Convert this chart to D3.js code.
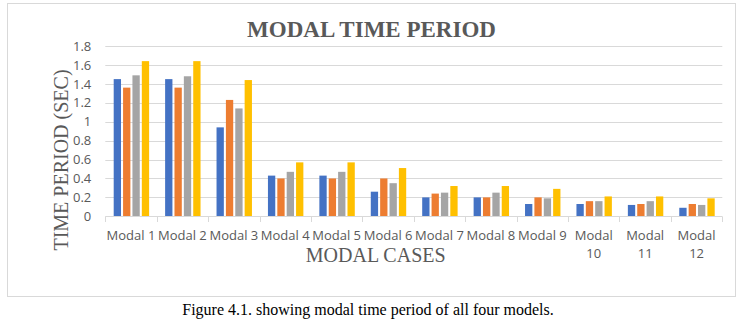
<!DOCTYPE html>
<html><head><meta charset="utf-8">
<script src="https://cdn.jsdelivr.net/npm/d3@7/dist/d3.min.js"></script>
<style>body{margin:0;background:#fff}svg{display:block}</style>
</head><body>
<script>
const categories = ["Modal 1","Modal 2","Modal 3","Modal 4","Modal 5","Modal 6","Modal 7","Modal 8","Modal 9","Modal 10","Modal 11","Modal 12"];
const categoryLabelLines = [["Modal 1"],["Modal 2"],["Modal 3"],["Modal 4"],["Modal 5"],["Modal 6"],["Modal 7"],["Modal 8"],["Modal 9"],["Modal","10"],["Modal","11"],["Modal","12"]];
const seriesNames = ["Model 1","Model 2","Model 3","Model 4"];
const series1 = [1.45,1.45,0.94,0.43,0.43,0.26,0.20,0.20,0.13,0.13,0.12,0.09];
const series2 = [1.36,1.36,1.23,0.40,0.40,0.40,0.24,0.20,0.20,0.16,0.13,0.13];
const series3 = [1.49,1.48,1.14,0.47,0.47,0.35,0.25,0.25,0.19,0.16,0.16,0.12];
const series4 = [1.64,1.64,1.44,0.57,0.57,0.51,0.32,0.32,0.29,0.21,0.21,0.19];
const yTicks = [0,0.2,0.4,0.6,0.8,1,1.2,1.4,1.6,1.8];
const colors = ["#4472C4","#ED7D31","#A5A5A5","#FFC000"];
const titleText = "MODAL TIME PERIOD";
const yTitle = "TIME PERIOD (SEC)";
const xTitle = "MODAL CASES";
const caption = "Figure 4.1. showing modal time period of all four models.";

const allSeries = [series1, series2, series3, series4];
const W = 746, H = 323;
const svg = d3.select("body").append("svg").attr("width", W).attr("height", H);

// chart frame
svg.append("rect").attr("x", 7.5).attr("y", 3.5).attr("width", 728).attr("height", 293)
  .attr("fill", "#fff").attr("stroke", "#d9d9d9").attr("stroke-width", 1);

const x = d3.scaleBand().domain(categories).range([105.3, 722.3]).paddingInner(0).paddingOuter(0);
const y = d3.scaleLinear().domain([0, 1.8]).range([216.3, 46]);
const xs = d3.scaleBand().domain(seriesNames).range([8.4, x.bandwidth() - 7.6]).paddingInner(0.22).paddingOuter(0);

// gridlines
svg.append("g").selectAll("line").data(yTicks.filter(d => d > 0)).join("line")
  .attr("x1", 105.3).attr("x2", 722.3)
  .attr("y1", d => Math.round(y(d)) + 0.5).attr("y2", d => Math.round(y(d)) + 0.5)
  .attr("stroke", "#d9d9d9").attr("stroke-width", 1);

// y axis labels
const yAxis = d3.axisLeft(y).tickValues(yTicks).tickSize(0).tickPadding(14).tickFormat(d => String(d));
const gy = svg.append("g").attr("transform", "translate(105.3,0)").call(yAxis);
gy.select(".domain").remove();
gy.selectAll("text").attr("font-family", "'Open Sans', sans-serif").attr("font-size", 13).attr("fill", "#595959");

// bars
const gBars = svg.append("g");
allSeries.forEach((vals, si) => {
  gBars.append("g").selectAll("rect").data(vals).join("rect")
    .attr("x", (d, i) => x(categories[i]) + xs(seriesNames[si]))
    .attr("width", xs.bandwidth())
    .attr("y", d => y(d))
    .attr("height", d => y(0) - y(d))
    .attr("fill", colors[si]);
});

// x axis line and ticks
const xAxisG = svg.append("g");
xAxisG.append("line").attr("x1", 105.3).attr("x2", 722.3).attr("y1", 216.5).attr("y2", 216.5)
  .attr("stroke", "#d9d9d9").attr("stroke-width", 1);
const boundaries = categories.map(c => x(c)).concat([x(categories[categories.length - 1]) + x.bandwidth()]);
xAxisG.selectAll("line.tk").data(boundaries).join("line").attr("class", "tk")
  .attr("x1", d => Math.round(d) + 0.5).attr("x2", d => Math.round(d) + 0.5)
  .attr("y1", 216.5).attr("y2", 222).attr("stroke", "#d9d9d9").attr("stroke-width", 1);

// x labels
const xl = svg.append("g").selectAll("text").data(categories).join("text")
  .attr("x", d => x(d) + x.bandwidth() / 2)
  .attr("y", 240)
  .attr("text-anchor", "middle")
  .attr("font-family", "'Open Sans', sans-serif").attr("font-size", 13).attr("fill", "#595959");
xl.each(function(d, i) {
  const lines = categoryLabelLines[i];
  d3.select(this).selectAll("tspan").data(lines).join("tspan")
    .attr("x", x(d) + x.bandwidth() / 2)
    .attr("dy", (l, j) => j === 0 ? 0 : 18)
    .text(l => l);
});

// title
svg.append("text").attr("x", 371.5).attr("y", 37).attr("text-anchor", "middle")
  .attr("font-family", "'Liberation Serif', 'Times New Roman', serif").attr("font-weight", "bold")
  .attr("font-size", 23).attr("fill", "#595959").text(titleText);

// y title
svg.append("text").attr("transform", "translate(68,160) rotate(-90)").attr("text-anchor", "middle")
  .attr("font-family", "'Liberation Serif', 'Times New Roman', serif")
  .attr("font-size", 20).attr("fill", "#595959").text(yTitle);

// x title
svg.append("text").attr("x", 375.7).attr("y", 262).attr("text-anchor", "middle")
  .attr("font-family", "'Liberation Serif', 'Times New Roman', serif")
  .attr("font-size", 20).attr("fill", "#595959").text(xTitle);

// caption
svg.append("text").attr("x", 368).attr("y", 315).attr("text-anchor", "middle")
  .attr("font-family", "'Liberation Serif', 'Times New Roman', serif")
  .attr("font-size", 16).attr("fill", "#000").text(caption);
</script>
</body></html>
